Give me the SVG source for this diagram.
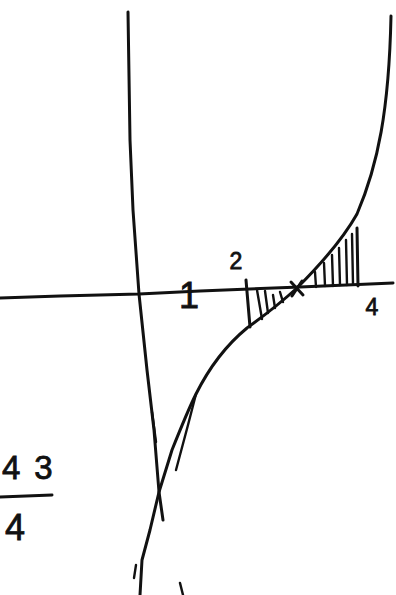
<svg xmlns="http://www.w3.org/2000/svg" width="396" height="595" viewBox="0 0 396 595">
<style>
.ink{fill:none;stroke:#111;stroke-width:3;stroke-linecap:round;stroke-linejoin:round}
.thin{fill:none;stroke:#111;stroke-width:2.4;stroke-linecap:round}
.lbl{font-family:"Liberation Sans","DejaVu Sans",sans-serif;fill:#111;stroke:#111;stroke-width:0.8}
</style>
<rect width="396" height="595" fill="#fff"/>
<g id="axis">
<path class="ink" d="M0,298 L60,296 L139,294 L200,291 L300,287 L393,283"/>
</g>
<g id="curve-left">
<path class="ink" d="M128,12 L130,140 L133,210 L139,294 L147,370 L154,430 L159,492 L163,520"/>
<path class="thin" d="M152,412 L156,442"/>
</g>
<g id="curve-right">
<path class="ink" d="M391,16 C389,110 378,165 357,214 C348,230 330,255 297,288 C275,308 258,320 247,328 C230,342 212,362 196,394 C188,410 180,430 172,450 L159,492 L150,530 L142,560 L140,595"/>
<path class="thin" d="M196,394 L188,425 L176,470"/>
<path class="thin" d="M136,565 L134,578"/>
<path class="thin" d="M180,583 L183,595"/>
</g>
<g id="hatch">
<path class="ink" d="M357,228 L358,286"/>
<path class="thin" d="M352,234 L353,284 M346,240 L347,285 M339,248 L340,285 M332,255 L333,286 M324,263 L325,286 M315,272 L316,287"/>
<path class="ink" d="M246,280 L250,327"/>
<path class="thin" d="M257,290 L262,319 M265,291 L268,313 M273,295 L275,308 M280,292 L283,302"/>
<path class="ink" d="M291,282 L303,295 M302,281 L292,296"/>
</g>
<g id="labels">
<text class="lbl" x="236" y="269" font-size="23" text-anchor="middle">2</text>
<text class="lbl" x="189" y="308" font-size="36" text-anchor="middle">1</text>
<text class="lbl" x="372" y="315" font-size="23" text-anchor="middle">4</text>
<text class="lbl" x="2" y="479" font-size="33" letter-spacing="14">43</text>
<path class="ink" d="M0,497 L52,495"/>
<text class="lbl" x="5" y="540" font-size="36">4</text>
</g>
</svg>
